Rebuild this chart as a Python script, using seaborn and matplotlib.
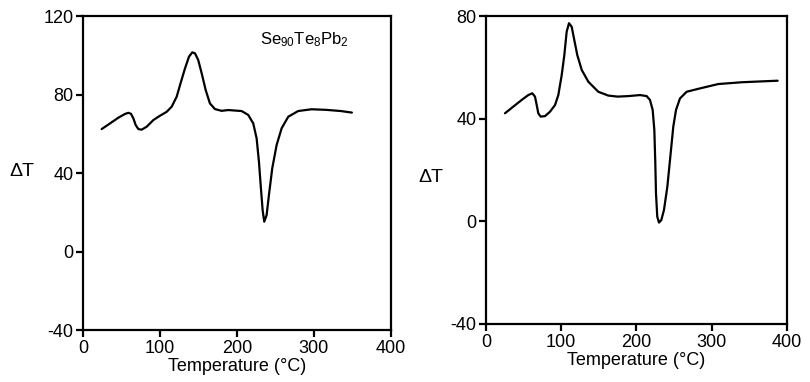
import matplotlib
matplotlib.use("Agg")
import matplotlib.pyplot as plt
import seaborn as sns
import pandas as pd

# Left panel: Se90Te8Pb2
temp_left = [24.2, 35.1, 45.9, 54.5, 58.9, 62.3, 65.4, 68.4, 71.9, 76.2, 82.7, 91.4,
             100.0, 108.7, 115.2, 121.7, 127.3, 132.5, 137.7, 142.0, 145.5, 149.7,
             154.2, 159.4, 164.9, 171.4, 180.1, 188.7, 206.1, 214.7, 221.2, 225.6,
             228.6, 231.2, 233.4, 235.5, 238.6, 241.6, 245.9, 251.6, 258.1, 266.7,
             279.6, 297.0, 316.0, 335.0, 349.4]
dt_left = [62.4, 65.3, 68.2, 70.1, 70.7, 70.2, 67.9, 64.5, 62.4, 62.1, 63.6, 67.0,
           69.2, 71.2, 73.8, 78.9, 86.5, 93.3, 99.3, 101.5, 101.0, 97.6,
           90.8, 82.3, 75.5, 72.6, 71.7, 72.1, 71.6, 69.6, 65.3, 57.7,
           45.8, 32.2, 21.1, 15.2, 18.6, 28.8, 42.4, 54.3, 62.8, 68.7,
           71.6, 72.5, 72.2, 71.6, 70.8]

# Right panel
temp_right = [25.2, 36.3, 47.4, 56.2, 61.5, 65.1, 67.4, 69.5, 72.7, 78.4, 85.0, 91.7,
              96.1, 100.6, 104.1, 107.2, 110.3, 113.9, 116.9, 121.3, 127.2, 136.0,
              149.2, 162.5, 175.0, 189.1, 204.7, 213.5, 217.9, 221.5, 223.7, 225.0,
              225.9, 227.6, 229.9, 233.0, 236.5, 241.0, 245.4, 248.9, 252.5, 257.8,
              266.7, 284.4, 308.7, 340.0, 387.6]
dt_right = [42.1, 44.7, 47.3, 49.2, 49.9, 48.6, 45.3, 42.1, 40.8, 41.0, 42.7, 45.3,
            49.2, 57.0, 64.8, 73.9, 77.2, 75.8, 71.3, 64.8, 59.0, 54.4,
            50.5, 49.0, 48.6, 48.8, 49.2, 48.8, 47.3, 43.4, 35.6, 22.6,
            10.9, 1.8, -0.5, 0.5, 4.4, 13.5, 26.5, 36.9, 43.4, 47.9,
            50.5, 51.8, 53.5, 54.2, 54.8]

xticks = [0, 100, 200, 300, 400]
yticks_left = [-40, 0, 40, 80, 120]
yticks_right = [-40, 0, 40, 80]

sns.set_style("ticks")
plt.rcParams["font.family"] = ["Liberation Sans", "DejaVu Sans"]
plt.rcParams["mathtext.fontset"] = "custom"
plt.rcParams["mathtext.rm"] = "Liberation Sans"
plt.rcParams["mathtext.it"] = "Liberation Sans"
plt.rcParams["axes.unicode_minus"] = False
plt.rcParams["text.color"] = "black"
plt.rcParams["axes.labelcolor"] = "black"

fig = plt.figure(figsize=(8.1, 3.82), dpi=100)
ax1 = fig.add_axes([0.1025, 0.136, 0.380, 0.822])
ax2 = fig.add_axes([0.600, 0.152, 0.3716, 0.806])

df_l = pd.DataFrame({"T": temp_left, "dT": dt_left})
df_r = pd.DataFrame({"T": temp_right, "dT": dt_right})
line_kw = dict(color="black", lw=1.6, sort=False, estimator=None,
               solid_joinstyle="round", solid_capstyle="round")
sns.lineplot(data=df_l, x="T", y="dT", ax=ax1, **line_kw)
sns.lineplot(data=df_r, x="T", y="dT", ax=ax2, **line_kw)

for ax, yt in ((ax1, yticks_left), (ax2, yticks_right)):
    ax.set_xlim(0, 400)
    ax.set_ylim(yt[0], yt[-1])
    ax.set_xticks(xticks)
    ax.set_yticks(yt)
    ax.set_xlabel("Temperature (°C)", fontsize=13, labelpad=1, color="black")
    ax.set_ylabel("")
    for s in ax.spines.values():
        s.set_visible(True)
        s.set_linewidth(1.6)
        s.set_color("black")
    ax.tick_params(direction="out", length=5, width=1.6, labelsize=13, pad=2,
                   colors="black", labelcolor="black")

ax1.text(230, 108, r"Se$_{90}$Te$_{8}$Pb$_{2}$", fontsize=12, ha="left", va="center",
         color="black")

fig.text(0.012, 1 - 172 / 382, "ΔT", fontsize=14, ha="left", va="center", color="black")
fig.text(0.516, 1 - 177 / 382, "ΔT", fontsize=14, ha="left", va="center", color="black")

fig.savefig("out.png", dpi=100)
